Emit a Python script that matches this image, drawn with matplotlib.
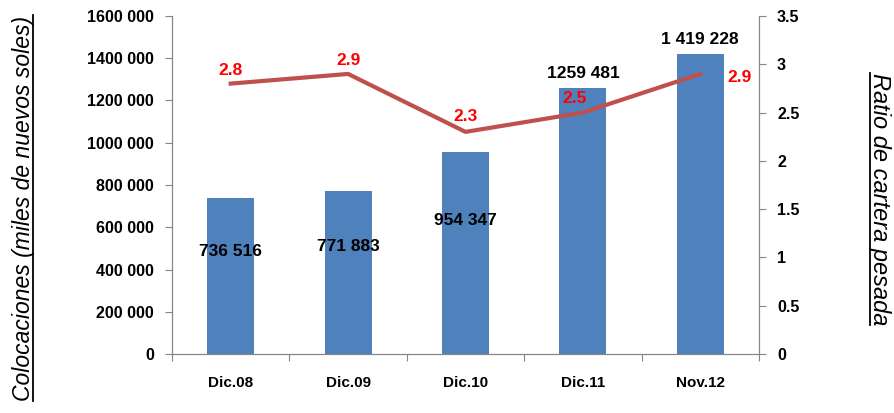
import numpy as np
import matplotlib.pyplot as plt
from matplotlib.lines import Line2D

plt.rcParams['font.family'] = ['Liberation Sans', 'DejaVu Sans']

periodos = ['Dic.08', 'Dic.09', 'Dic.10', 'Dic.11', 'Nov.12']
colocaciones = [736516, 771883, 954347, 1259481, 1419228]
etiquetas_col = ['736 516', '771 883', '954 347', '1259 481', '1 419 228']
ratio = [2.8, 2.9, 2.3, 2.5, 2.9]
ticks_izq = ['0', '200 000', '400 000', '600 000', '800 000',
             '1000 000', '1200 000', '1400 000', '1600 000']
ticks_der = ['0', '0.5', '1', '1.5', '2', '2.5', '3', '3.5']

azul = '#4f81bd'
rojo = '#c0504d'
gris = '#868686'

fig = plt.figure(figsize=(8.94, 4.13), dpi=100)
ax = fig.add_axes([172/894, 1 - 354/413, (759-172)/894, (354-16)/413])
ax2 = ax.twinx()

x = np.arange(len(periodos))
ax.bar(x, colocaciones, width=0.4, color=azul, zorder=2)
ax.set_xlim(-0.5, len(periodos) - 0.5)
ax.set_ylim(0, 1600000)
ax.set_yticks(np.arange(0, 1600001, 200000))
ax.set_yticklabels(ticks_izq, fontsize=11.5, fontweight='bold')
ax.set_xticks(np.arange(-0.5, len(periodos), 1.0))
ax.set_xticklabels([])
ax.set_xticks(x, minor=True)
ax.set_xticklabels(periodos, minor=True, fontsize=11, fontweight='bold')
ax.tick_params(axis='x', which='minor', length=0, pad=16)
ax.tick_params(axis='x', which='major', length=5, color=gris, direction='out')
ax.tick_params(axis='y', length=5, color=gris, direction='out', pad=8)

ax2.plot(x, ratio, color=rojo, lw=3, zorder=3)
ax2.set_ylim(0, 3.5)
ax2.set_yticks(np.arange(0, 3.51, 0.5))
ax2.set_yticklabels(ticks_der, fontsize=11.5, fontweight='bold')
ax2.tick_params(axis='y', length=5, color=gris, direction='out', pad=8)

for a in (ax, ax2):
    a.spines['top'].set_visible(False)
    for s in ('left', 'right', 'bottom'):
        a.spines[s].set_color(gris)
ax.set_zorder(ax2.get_zorder() - 1)
ax2.patch.set_visible(False)

# etiquetas de barras
for i, (v, t) in enumerate(zip(colocaciones, etiquetas_col)):
    if i < 3:
        ax.text(i, v * 0.66, t, ha='center', va='center', fontsize=12.5, fontweight='bold', zorder=4)
    else:
        ax.annotate(t, (i, v), xytext=(0, 5), textcoords='offset points',
                    ha='center', va='bottom', fontsize=12.5, fontweight='bold')

# etiquetas de la linea
offs = [(0, 4), (0, 4), (0, 6), (-6, 5), (28, -8)]
for i, (r, o) in enumerate(zip(ratio, offs)):
    ax2.annotate(str(r), (i, r), xytext=o, textcoords='offset points',
                 ha='center', va='bottom', fontsize=12.5, fontweight='bold', color='red')

# titulos de ejes subrayados
t1 = fig.text(24/894, 1 - 208/413, 'Colocaciones (miles de nuevos soles)', rotation=90,
              ha='center', va='center', fontsize=16.5, style='italic')
t2 = fig.text(879/894, 1 - 199/413, 'Ratio de cartera pesada', rotation=-90,
              ha='center', va='center', fontsize=17, style='italic')
fig.canvas.draw()
r = fig.canvas.get_renderer()
inv = fig.transFigure.inverted()
bb = t1.get_window_extent(r).transformed(inv)
fig.add_artist(Line2D([bb.x1 - 0.003, bb.x1 - 0.003], [bb.y0, bb.y1], color='black', lw=1.3,
                      transform=fig.transFigure))
bb = t2.get_window_extent(r).transformed(inv)
fig.add_artist(Line2D([bb.x0 + 0.003, bb.x0 + 0.003], [bb.y0, bb.y1], color='black', lw=1.3,
                      transform=fig.transFigure))

fig.savefig('out.png', dpi=100)
